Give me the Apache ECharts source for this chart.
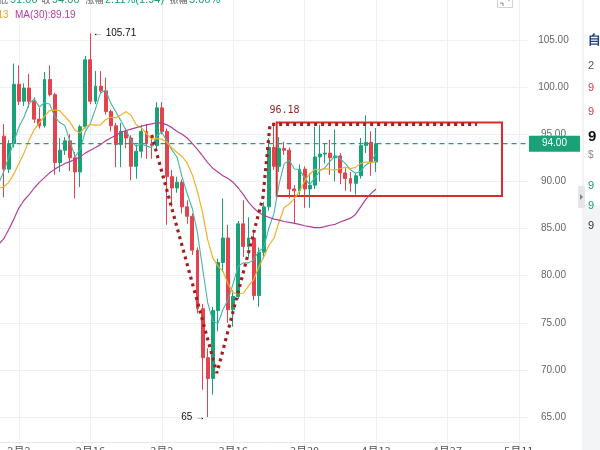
<!DOCTYPE html>
<html><head><meta charset="utf-8">
<script src="https://cdn.jsdelivr.net/npm/echarts@6/dist/echarts.min.js"></script>
<style>html,body{margin:0;padding:0;background:#fff}#c{width:600px;height:450px}</style>
</head><body><div id="c"></div>
<script>
// ---------- data ----------
const xTickLabels = ['2月2','2月16','3月2','3月16','3月30','4月13','4月27','5月11'];
const monthDays = {1:31, 2:28, 3:31, 4:30, 5:31};
const dates = [];
(function(){ let m = 1, d = 29; for (let i = 0; i < 105; i++) { dates.push(m + '月' + d); d++; if (d > monthDays[m]) { d = 1; m++; } } })();

// [open, close, low, high] from 1月30 to 4月13
const ohlc = [
 [94.8,91.3,88.3,96.1],[91.3,94.0,90.9,94.4],[94.0,100.3,93.6,102.5],[100.3,98.5,98.1,102.3],
 [98.5,99.9,98.0,100.4],[99.9,98.5,97.8,101.4],[98.5,96.6,96.2,98.9],[96.6,95.9,95.6,97.8],
 [95.9,100.8,95.7,101.6],[100.8,99.2,99.0,102.3],[99.2,92.0,90.7,99.4],[92.0,93.3,91.0,94.6],
 [93.3,94.3,92.8,94.7],[94.3,92.5,91.1,95.0],[92.5,91.0,88.2,93.1],[91.0,95.8,89.4,96.0],
 [95.8,102.9,95.6,103.3],[102.9,98.5,98.2,105.71],[98.5,100.1,98.2,101.7],[100.1,99.6,99.3,101.7],
 [99.6,97.4,97.1,101.0],[97.4,95.9,95.3,97.6],[95.9,93.9,91.5,96.2],[93.9,95.3,91.5,96.2],
 [95.3,94.6,93.5,95.6],[94.6,91.6,90.1,94.9],[91.6,93.2,90.3,93.9],[93.2,95.3,92.5,96.0],
 [95.3,94.0,92.4,96.1],[94.0,93.8,92.4,94.5],[93.8,97.8,93.5,98.4],[97.8,95.3,95.0,98.4],
 [95.3,90.5,85.4,95.6],[90.5,89.3,87.3,91.2],[89.3,89.9,88.8,90.5],[89.9,87.3,86.6,90.2],
 [87.3,86.3,85.5,88.0],[86.3,82.7,82.2,86.6],[82.7,76.5,76.0,83.0],[76.5,71.3,67.9,77.0],
 [71.3,69.1,65.0,72.3],[69.1,76.3,67.4,76.7],[76.3,81.4,74.1,81.8],[81.4,84.0,80.4,88.2],
 [84.0,76.4,75.0,85.4],[76.4,77.8,74.6,78.5],[77.8,85.5,77.5,85.8],[85.5,83.1,82.0,88.0],
 [83.1,84.0,82.0,86.2],[84.0,77.9,77.4,84.6],[77.9,82.5,76.7,83.0],[82.5,87.3,81.8,87.8],
 [87.3,93.6,86.9,94.6],[93.6,91.6,91.2,96.18],[91.6,93.5,91.0,94.7],[93.5,93.3,92.8,94.2],
 [93.3,89.2,88.2,93.6],[89.2,89.0,85.6,89.6],[89.0,91.3,88.6,91.8],[91.3,89.2,87.2,91.6],
 [89.2,89.6,87.2,90.9],[89.6,92.6,89.2,95.8],[92.6,92.9,90.0,96.0],[92.9,93.0,91.9,94.0],
 [93.0,92.5,90.7,94.4],[92.5,92.7,90.0,95.5],[92.7,90.9,89.7,93.0],[90.9,90.3,89.0,91.4],
 [90.3,89.8,88.9,91.0],[89.8,90.6,88.6,90.9],[90.6,93.8,90.3,94.6],[93.8,94.14,93.0,97.0],
 [94.14,92.06,90.6,95.3],[92.06,94.0,91.0,95.66]
];
// moving averages, from 1月29 to 4月13
const ma5 = [89.8,91.0,92.6,94.2,95.8,96.8,98.24,98.76,97.88,98.34,98.2,96.9,96.24,95.92,94.26,92.62,93.38,95.3,96.14,97.66,
 99.38,99.7,98.3,97.38,96.42,95.42,94.26,93.72,94.0,93.74,93.58,94.82,95.24,94.28,93.34,92.56,90.46,88.66,87.1,84.54,
 80.82,77.18,75.18,74.92,76.42,77.44,79.18,81.02,81.36,81.36,81.66,82.6,82.96,85.06,86.58,89.7,91.86,92.24,91.32,91.26,
 90.4,89.66,90.34,91.12,91.46,92.12,92.74,92.4,91.88,91.24,90.86,91.08,91.73,92.08,92.92];
const ma10 = [89.3,89.4,89.9,90.8,91.9,93.0,94.4,95.5,96.2,96.9,97.5,97.57,97.5,96.9,96.3,95.41,95.14,95.77,96.03,95.96,
 96.0,96.54,96.8,96.76,97.04,97.4,96.98,96.01,95.69,95.08,94.5,94.54,94.48,94.14,93.54,93.07,92.64,91.95,90.69,88.94,
 86.69,83.82,81.92,81.01,80.48,79.13,78.18,78.1,78.14,78.89,79.55,80.89,81.99,83.21,83.97,85.68,87.23,87.6,88.19,88.92,
 90.05,90.76,91.29,91.22,91.36,91.26,91.2,91.37,91.5,91.35,91.49,91.91,92.06,91.98,92.13];
const ma30 = [83.3,83.9,84.9,86.0,87.2,88.0,88.6,89.3,89.9,90.4,90.9,91.3,91.6,91.9,92.1,92.35,92.6,93.0,93.3,93.6,
 93.9,94.3,94.6,94.9,95.2,95.4,95.55,95.7,95.85,96.0,96.1,96.2,96.2,96.0,95.7,95.3,95.0,94.6,94.0,93.4,
 92.7,92.0,91.4,91.0,90.6,90.3,89.9,89.3,88.6,87.8,87.2,86.7,86.4,86.2,86.0,85.9,85.75,85.65,85.55,85.45,
 85.3,85.2,85.1,85.1,85.2,85.35,85.45,85.7,85.9,86.1,86.5,87.3,88.1,88.7,89.19];
const lastPrice = 94.00;
const highMark = ['2月16', 105.71];
const lowMark = ['3月11', 65];
// hand-drawn dotted path (day index, price) and box (day index, price)
const pathDay = [30.03, 42.83, 51.85, 53.23, 93.8];
const pathPrice = [94.92, 69.67, 88.34, 96.05, 96.05];
const boxDay = [54.54, 98.72];
const boxPrice = [96.25, 88.45];
const boxLabel = '96.18';
const headerTop = [['低','#666'],['91.00','#17a075'],['收','#666'],['94.00','#17a075'],['涨幅','#666'],['2.11%(1.94)','#17a075'],['振幅','#666'],['5.06%','#17a075']];
const headerX = [-1, 10, 41.5, 52, 85.5, 105, 169.5, 189];

// ---------- chart ----------
const UP = '#17a378', DOWN = '#e4434d', PRICE = '#1aa276';
const FONT = 'Liberation Sans, Arial, sans-serif';
const CJK = 'Noto Sans CJK SC, sans-serif';
const candleData = [['-','-','-','-']].concat(ohlc);
const showTick = (i, v) => xTickLabels.indexOf(v) >= 0;

const graphics = [];
headerTop.forEach((h, i) => {
  const cjk = /[\u4e00-\u9fff]/.test(h[0]);
  graphics.push({type:'text', x: headerX[i], y: 0, z: 100,
    style:{text: h[0], fill: h[1], font: (cjk ? '9px ' + CJK : '11px ' + FONT), verticalAlign:'middle'}});
});
graphics.push({type:'text', x: 8.5, y: 15.5, z:100, style:{text:'MA(10):92.13', fill:'#eaa824', font:'10px '+FONT, align:'right', verticalAlign:'middle'}});
graphics.push({type:'text', x: 15, y: 15.5, z:100, style:{text:'MA(30):89.19', fill:'#b0409f', font:'10px '+FONT, verticalAlign:'middle'}});
// small tool icon top-right
graphics.push({type:'rect', z:100, shape:{x:497.5, y:-6.5, width:15, height:14}, style:{fill:'#fff', stroke:'#cfd3d7', lineWidth:1}});
graphics.push({type:'polyline', z:101, shape:{points:[[500,3],[503,3],[503,6]]}, style:{stroke:'#888', lineWidth:1, fill:null}});
graphics.push({type:'polyline', z:101, shape:{points:[[506,-2],[509,-2],[509,1]]}, style:{stroke:'#888', lineWidth:1, fill:null}});
// right side panel
graphics.push({type:'rect', z:90, shape:{x:580, y:0, width:20, height:450}, style:{fill:'#ffffff'}});
graphics.push({type:'rect', z:91, shape:{x:582.5, y:0, width:1, height:450}, style:{fill:'#e3e6ea'}});
graphics.push({type:'rect', z:91, shape:{x:584, y:205, width:16, height:245}, style:{fill:'#f3f4f6'}});
graphics.push({type:'rect', z:92, shape:{x:578, y:186, width:7, height:22, r:1}, style:{fill:'#e4e6e9'}});
graphics.push({type:'polygon', z:93, shape:{points:[[580,194],[583,197],[580,200]]}, style:{fill:'#7d838a'}});
[[40,'自','#1e3a8a','bold 13px '],[66,'2','#555','11px '],[88,'9','#d23b44','11px '],[112,'9','#d23b44','11px '],
 [137,'9','#111','bold 15px '],[155,'$','#888','10px '],[186,'9','#17a075','11px '],[206,'9','#17a075','11px '],
 [226,'9','#333','11px ']].forEach(t => graphics.push({type:'text', z:95, x:588, y:t[0], style:{text:t[1], fill:t[2], font:t[3]+FONT, verticalAlign:'middle'}}));

const option = {
  animation: false,
  backgroundColor: '#ffffff',
  grid: {left: -1.45, right: 71.05, top: -7.2, bottom: -14.3, containLabel: false, outerBoundsMode: 'none'},
  xAxis: [
    {type:'category', data: dates, boundaryGap: false, position:'bottom', offset: -22.3,
     axisLine:{show:true, lineStyle:{color:'#e6e9ec'}}, axisTick:{show:false},
     axisLabel:{interval: showTick, color:'#555', fontSize:11, margin:3, fontFamily: CJK, hideOverlap:false},
     splitLine:{show:true, interval: showTick, lineStyle:{color:'#eef1f3', width:1}}},
    {type:'value', min: 0, max: dates.length - 1, show: false, splitLine:{show:false}}
  ],
  yAxis: {type:'value', position:'right', min:60, max:110, interval:5, scale:true,
    axisLine:{show:true, lineStyle:{color:'#eef1f3'}}, axisTick:{show:false},
    axisLabel:{color:'#666', fontSize:10, fontFamily: FONT, align:'center', margin:24.5, formatter: v => v.toFixed(2)},
    splitLine:{show:true, lineStyle:{color:'#eef1f3', width:1}}},
  series: [
    {type:'candlestick', name:'K', xAxisIndex:0, data: candleData, barWidth: 3.4, clip:false, z:2,
     itemStyle:{color: UP, color0: DOWN, borderColor: UP, borderColor0: DOWN, borderWidth: 1},
     markPoint:{symbol:'rect', symbolSize:1, silent:true, itemStyle:{color:'rgba(0,0,0,0)'},
       data:[
         {coord: highMark, label:{show:true, formatter:'← ' + highMark[1].toFixed(2), position:'right', distance:2, color:'#111', fontSize:10, fontFamily: FONT}},
         {coord: lowMark, label:{show:true, formatter: lowMark[1] + ' →', position:'left', distance:2, color:'#111', fontSize:10, fontFamily: FONT}}
       ]}
    },
    {type:'line', name:'MA5', data: ma5, symbol:'none', lineStyle:{color:'#45b6a7', width:1.1}, itemStyle:{color:'#45b6a7'}, z:3},
    {type:'line', name:'MA10', data: ma10, symbol:'none', lineStyle:{color:'#eeb02a', width:1.2}, itemStyle:{color:'#eeb02a'}, z:3},
    {type:'line', name:'MA30', data: ma30, symbol:'none', lineStyle:{color:'#b0409f', width:1.2}, itemStyle:{color:'#b0409f'}, z:3},
    {type:'line', name:'last', xAxisIndex:1, data: [[0, lastPrice], [dates.length - 1, lastPrice]], symbol:'none', clip:false, z:4,
     itemStyle:{color: PRICE}, lineStyle:{color:'#23a07a', type:[5,4], width:1.3},
     endLabel:{show:true, formatter: lastPrice.toFixed(2), distance:0, color:'#fff', backgroundColor: PRICE,
               padding:[3,13,3,13], fontSize:10, fontFamily: FONT}
    },
    {type:'line', name:'path', xAxisIndex:1, data: pathDay.map((d, i) => [d, pathPrice[i]]), symbol:'none', z:5, clip:false,
     lineStyle:{color:'#a51d1d', width:3.2, type:[3,4]},
     markArea:{silent:true, itemStyle:{color:'rgba(0,0,0,0)', borderColor:'#d62b2b', borderWidth:2},
       data:[[{coord:[boxDay[0], boxPrice[0]]},{coord:[boxDay[1], boxPrice[1]]}]]},
     markPoint:{symbol:'rect', symbolSize:1, silent:true, itemStyle:{color:'rgba(0,0,0,0)'},
       data:[{coord:[pathDay[3], 96.18], label:{show:true, formatter: boxLabel, position:[0,-17], color:'#9b1c1c', fontSize:10, fontFamily:'DejaVu Sans Mono, monospace'}}]}
    }
  ],
  graphic: graphics
};
const chart = echarts.init(document.getElementById('c'), null, {renderer:'canvas'});
chart.setOption(option);
</script>
</body></html>
